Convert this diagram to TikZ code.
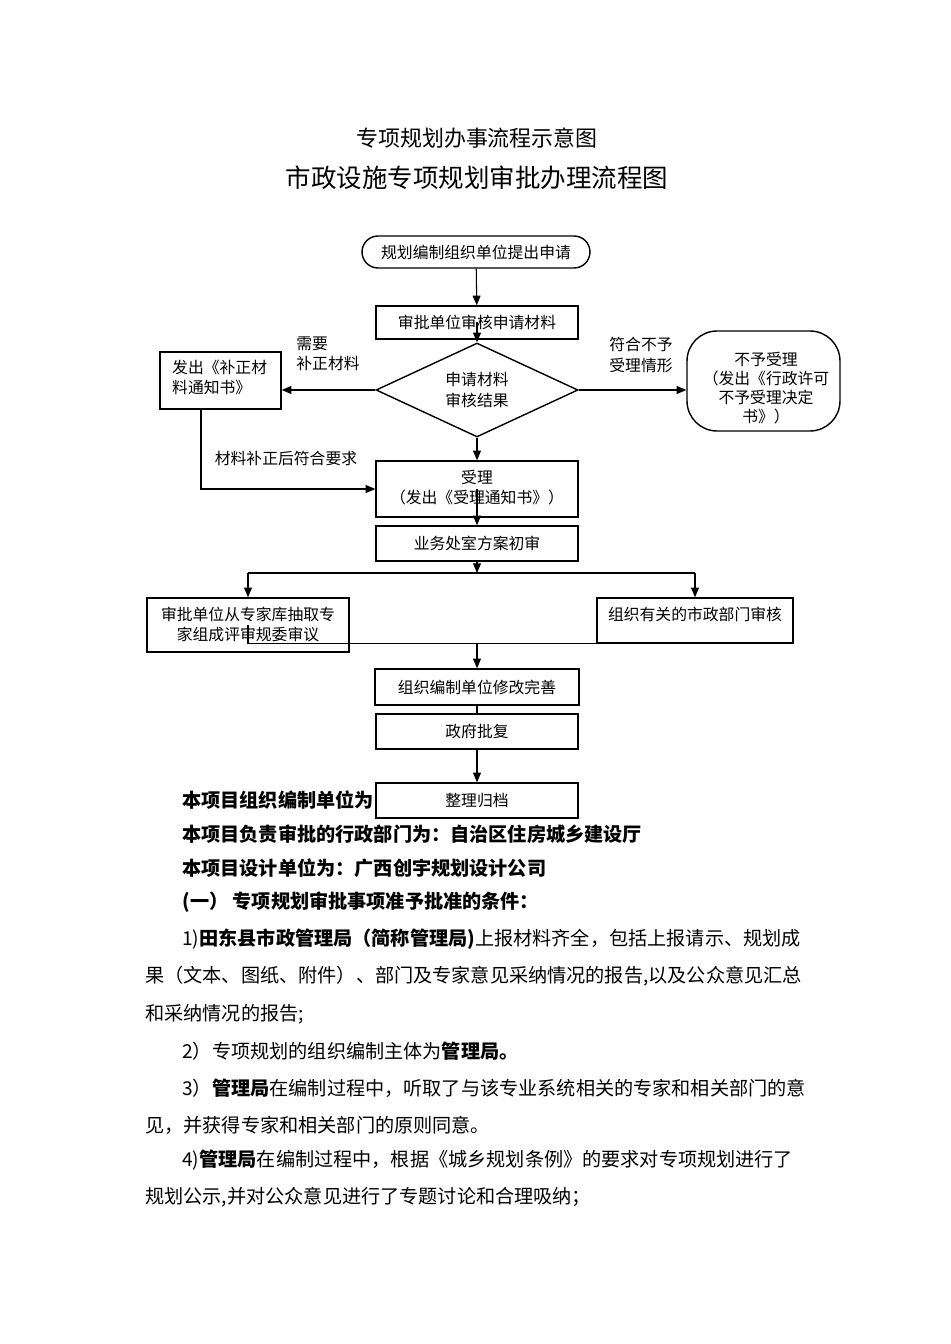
\documentclass[tikz,border=0pt]{standalone}
\usepackage{fontspec}
\setmainfont{Noto Sans CJK SC}
\usetikzlibrary{shapes.geometric,positioning,arrows.meta}
\newcommand{\bodysize}{\fontsize{10.9pt}{13pt}\selectfont}
\tikzset{
  flow/.style={font=\fontsize{9pt}{11.5pt}\selectfont, align=center},
  box/.style={flow, draw, line width=0.8pt, minimum width=4.04cm, minimum height=0.7cm, inner sep=1pt},
  arr/.style={-{Triangle[length=5.5pt,width=4.5pt]}, line width=0.6pt},
  body/.style={anchor=west, inner sep=0pt, font=\bodysize},
  bodybold/.style={body, font=\bodysize\bfseries},
}
\begin{document}
\begin{tikzpicture}[x=0.02cm,y=-0.02cm]
\useasboundingbox (0,0) rectangle (950,1344);
% titles
\node (title1) at (477,138) {\fontsize{12.5pt}{14pt}\selectfont 专项规划办事流程示意图};
\node (title2) at (477,178) {\fontsize{14.5pt}{16pt}\selectfont 市政设施专项规划审批办理流程图};
% flow chart
\node[box, minimum width=4.56cm, minimum height=0.64cm, rounded corners=0.32cm] (apply) at (476,252) {规划编制组织单位提出申请};
\node[box, minimum height=0.66cm] (check) at (477,322.5) {审批单位审核申请材料};
\node[flow, draw, diamond, aspect=2.15, minimum width=4.04cm, minimum height=1.88cm, inner sep=0pt, line width=0.8pt] (result) at (477,390) {申请材料\\审核结果};
\node[box, minimum width=2.42cm, minimum height=1.14cm] (fix) at (220.5,380.5) {};
\node[flow, align=left, anchor=north west] (fixtext) at (166,354) {发出《补正材\\料通知书》};
\node[box, minimum width=3.06cm, minimum height=2cm, rounded corners=0.6cm] (reject) at (763.5,381) {};
\node[flow, font=\fontsize{9pt}{10.8pt}\selectfont] (rejecttext) at (766,388) {不予受理\\（发出《行政许可\\不予受理决定\\书》）};
\node[box, minimum height=1.12cm] (accept) at (477,489) {};
\node[flow, anchor=north] (accepttext) at (477,464) {受理\\（发出《受理通知书》）};
\node[box] (first) at (477,543.5) {业务处室方案初审};
\node[box, minimum height=1.08cm] (expert) at (248,625) {};
\node[flow, anchor=north] (experttext) at (248,601) {审批单位从专家库抽取专\\家组成评审规委审议};
\node[box, minimum width=3.92cm, minimum height=0.9cm] (dept) at (695,620.5) {};
\node[flow, anchor=north] (depttext) at (695,601) {组织有关的市政部门审核};
\node[box, minimum width=4.08cm, minimum height=0.72cm] (revise) at (477,687) {组织编制单位修改完善};
\node[box] (approve) at (477,731.5) {政府批复};
\node[box] (archive) at (477,800.5) {整理归档};
% labels
\node[flow, align=left] (needfix) at (328,354) {需要\\补正材料};
\node[flow, align=left] (refuse) at (641,355) {符合不予\\受理情形};
\node[flow] (fixed) at (286,458) {材料补正后符合要求};
% connectors
\draw[arr] (apply) -- (check);
\draw[arr] (check.center) -- (result.north);
\draw[arr] (result.west) -- (result.west -| fix.east);
\draw[arr] (result.east) -- (result.east -| reject.west);
\draw[arr] (result) -- (accept);
\coordinate (fixdown) at ([xshift=-0.39cm]fix.south);
\draw[arr] (fixdown) |- (accept.west);
\draw[arr] (accept.center) -- (first.north);
\coordinate (split) at (477,573);
\draw[arr] (first) -- (split);
\draw[line width=0.6pt] (split -| expert.north) -- (split -| dept.north);
\draw[arr] (split -| expert.north) -- (expert.north);
\draw[arr] (split -| dept.north) -- (dept.north);
\draw[line width=0.6pt] (expert.center) |- (dept.south);
\coordinate (join) at (revise.north |- dept.south);
\draw[arr] (join) -- (revise.north);
\draw[line width=0.6pt] (revise) -- (approve);
\draw[arr] (approve) -- (archive);
% text below
\node[bodybold] (line1) at (182,800) {本项目组织编制单位为};
\node[bodybold] (line2) at (182,834) {本项目负责审批的行政部门为：自治区住房城乡建设厅};
\node[bodybold] (line3) at (182,868) {本项目设计单位为：广西创宇规划设计公司};
\node[bodybold] (line4) at (182,902) {(一）\ 专项规划审批事项准予批准的条件：};
\node[body] (line5) at (182,939) {1){\bfseries 田东县市政管理局（简称管理局)}上报材料齐全，包括上报请示、规划成};
\node[body] (line6) at (145,976) {果（文本、图纸、附件）、部门及专家意见采纳情况的报告,以及公众意见汇总};
\node[body] (line7) at (145,1014) {和采纳情况的报告;};
\node[body] (line8) at (182,1051) {2）专项规划的组织编制主体为{\bfseries 管理局。}};
\node[body] (line9) at (182,1088) {3）{\bfseries 管理局}在编制过程中，听取了与该专业系统相关的专家和相关部门的意};
\node[body] (line10) at (145,1125) {见，并获得专家和相关部门的原则同意。};
\node[body] (line11) at (182,1160) {4){\bfseries 管理局}在编制过程中，根据《城乡规划条例》的要求对专项规划进行了};
\node[body] (line12) at (145,1197) {规划公示,并对公众意见进行了专题讨论和合理吸纳；};
\end{tikzpicture}
\end{document}
